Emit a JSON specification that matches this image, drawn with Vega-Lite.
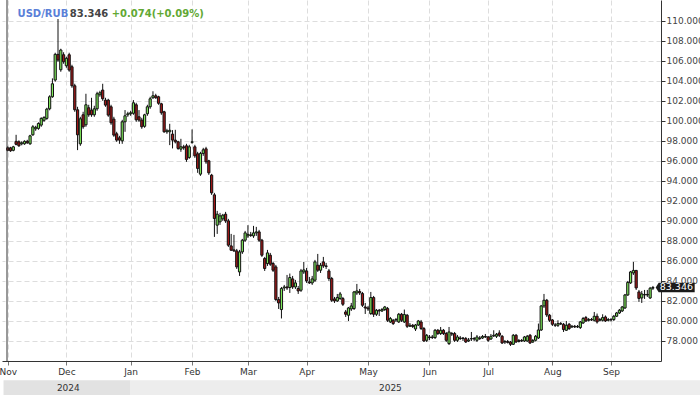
{
"$schema": "https://vega.github.io/schema/vega-lite/v6.json",
"width": 659, "height": 361,
"autosize": {"type": "none"},
"padding": {"left": 2, "top": 0, "right": 39, "bottom": 34},
"background": "white",
"config": {"view": {"stroke": null}, "font": "DejaVu Sans"},
"data": {"values": [
{"i":0,"o":97.30,"h":97.45,"l":96.95,"c":97.05},
{"i":1,"o":97.30,"h":97.40,"l":96.90,"c":97.00},
{"i":2,"o":97.05,"h":97.50,"l":96.95,"c":97.40},
{"i":3,"o":97.95,"h":98.60,"l":97.55,"c":97.65},
{"i":4,"o":97.90,"h":98.05,"l":97.40,"c":97.50},
{"i":5,"o":97.70,"h":97.95,"l":97.55,"c":97.80},
{"i":6,"o":97.70,"h":98.05,"l":97.60,"c":97.95},
{"i":7,"o":97.95,"h":98.10,"l":97.70,"c":97.80},
{"i":8,"o":97.70,"h":98.60,"l":97.60,"c":98.50},
{"i":9,"o":98.60,"h":99.57,"l":98.50,"c":99.40},
{"i":10,"o":99.20,"h":99.50,"l":99.00,"c":99.35},
{"i":11,"o":99.24,"h":99.85,"l":99.10,"c":99.73},
{"i":12,"o":99.57,"h":100.35,"l":99.40,"c":100.24},
{"i":13,"o":100.05,"h":100.45,"l":99.90,"c":100.34},
{"i":14,"o":100.24,"h":101.30,"l":100.10,"c":101.17},
{"i":15,"o":101.20,"h":102.55,"l":101.05,"c":102.40},
{"i":16,"o":102.40,"h":104.24,"l":102.30,"c":103.70},
{"i":17,"o":104.07,"h":106.80,"l":103.90,"c":106.64},
{"i":18,"o":106.64,"h":110.17,"l":105.90,"c":106.07},
{"i":19,"o":105.10,"h":107.20,"l":104.90,"c":107.07},
{"i":20,"o":106.60,"h":106.85,"l":105.70,"c":105.90},
{"i":21,"o":105.50,"h":106.40,"l":105.30,"c":106.24},
{"i":22,"o":106.60,"h":106.80,"l":104.90,"c":105.07},
{"i":23,"o":105.40,"h":105.60,"l":103.30,"c":103.50},
{"i":24,"o":103.50,"h":103.70,"l":100.90,"c":101.10},
{"i":25,"o":101.10,"h":101.40,"l":97.07,"c":98.60},
{"i":26,"o":97.70,"h":100.40,"l":97.50,"c":100.20},
{"i":27,"o":100.60,"h":100.90,"l":99.20,"c":99.40},
{"i":28,"o":99.60,"h":102.70,"l":99.40,"c":101.60},
{"i":29,"o":101.30,"h":101.60,"l":100.40,"c":100.60},
{"i":30,"o":101.07,"h":102.30,"l":100.40,"c":100.60},
{"i":31,"o":100.60,"h":101.50,"l":100.40,"c":101.20},
{"i":32,"o":101.20,"h":102.90,"l":101.00,"c":102.70},
{"i":33,"o":102.60,"h":103.00,"l":102.40,"c":102.80},
{"i":34,"o":103.07,"h":103.70,"l":102.00,"c":102.20},
{"i":35,"o":102.07,"h":102.30,"l":101.40,"c":101.57},
{"i":36,"o":102.07,"h":102.20,"l":100.40,"c":100.57},
{"i":37,"o":101.40,"h":101.60,"l":99.60,"c":99.80},
{"i":38,"o":100.17,"h":100.40,"l":98.40,"c":98.57},
{"i":39,"o":98.70,"h":98.90,"l":97.90,"c":98.07},
{"i":40,"o":98.30,"h":98.50,"l":97.70,"c":98.07},
{"i":41,"o":98.00,"h":100.10,"l":97.70,"c":99.90},
{"i":42,"o":99.90,"h":101.07,"l":98.90,"c":100.50},
{"i":43,"o":100.60,"h":100.90,"l":100.40,"c":100.70},
{"i":44,"o":100.70,"h":101.00,"l":100.50,"c":100.80},
{"i":45,"o":100.75,"h":102.07,"l":100.60,"c":101.80},
{"i":46,"o":101.60,"h":101.80,"l":99.90,"c":100.10},
{"i":47,"o":100.40,"h":101.07,"l":99.90,"c":100.07},
{"i":48,"o":100.07,"h":100.30,"l":99.20,"c":99.40},
{"i":49,"o":99.45,"h":100.70,"l":99.30,"c":100.60},
{"i":50,"o":100.70,"h":101.60,"l":100.50,"c":101.40},
{"i":51,"o":101.40,"h":102.40,"l":101.20,"c":102.20},
{"i":52,"o":102.30,"h":102.95,"l":102.20,"c":102.50},
{"i":53,"o":102.50,"h":102.70,"l":102.20,"c":102.30},
{"i":54,"o":102.40,"h":102.50,"l":101.60,"c":101.75},
{"i":55,"o":101.70,"h":101.80,"l":100.60,"c":100.80},
{"i":56,"o":100.90,"h":101.00,"l":98.80,"c":98.90},
{"i":57,"o":98.90,"h":99.20,"l":98.70,"c":99.00},
{"i":58,"o":98.90,"h":99.70,"l":97.57,"c":99.05},
{"i":59,"o":98.67,"h":99.07,"l":97.24,"c":98.07},
{"i":60,"o":98.07,"h":99.10,"l":97.74,"c":97.90},
{"i":61,"o":97.90,"h":98.00,"l":97.10,"c":97.24},
{"i":62,"o":97.17,"h":98.20,"l":96.90,"c":97.40},
{"i":63,"o":97.40,"h":97.60,"l":97.10,"c":97.30},
{"i":64,"o":97.50,"h":97.70,"l":95.90,"c":96.14},
{"i":65,"o":96.34,"h":97.60,"l":96.20,"c":97.40},
{"i":66,"o":97.85,"h":99.14,"l":97.70,"c":97.90},
{"i":67,"o":97.40,"h":97.60,"l":96.30,"c":96.50},
{"i":68,"o":96.70,"h":96.90,"l":94.80,"c":95.24},
{"i":69,"o":94.67,"h":96.90,"l":94.50,"c":96.74},
{"i":70,"o":96.74,"h":97.30,"l":96.50,"c":97.10},
{"i":71,"o":97.20,"h":97.40,"l":95.70,"c":95.90},
{"i":72,"o":96.00,"h":96.10,"l":94.60,"c":94.80},
{"i":73,"o":94.57,"h":94.70,"l":92.60,"c":92.80},
{"i":74,"o":92.60,"h":92.80,"l":88.40,"c":90.24},
{"i":75,"o":89.57,"h":91.00,"l":88.70,"c":90.67},
{"i":76,"o":89.90,"h":90.80,"l":89.60,"c":90.50},
{"i":77,"o":90.20,"h":90.70,"l":90.00,"c":90.57},
{"i":78,"o":90.67,"h":90.90,"l":89.80,"c":90.00},
{"i":79,"o":90.00,"h":90.20,"l":87.40,"c":87.57},
{"i":80,"o":87.50,"h":88.70,"l":87.00,"c":87.07},
{"i":81,"o":87.10,"h":88.60,"l":86.90,"c":87.00},
{"i":82,"o":87.00,"h":87.20,"l":85.20,"c":85.40},
{"i":83,"o":84.90,"h":87.10,"l":84.50,"c":86.90},
{"i":84,"o":86.90,"h":88.20,"l":86.70,"c":88.07},
{"i":85,"o":88.07,"h":89.00,"l":87.90,"c":88.80},
{"i":86,"o":88.50,"h":89.57,"l":88.30,"c":88.65},
{"i":87,"o":88.60,"h":88.90,"l":88.40,"c":88.55},
{"i":88,"o":88.50,"h":89.50,"l":88.30,"c":88.80},
{"i":89,"o":88.80,"h":89.40,"l":88.50,"c":88.90},
{"i":90,"o":88.90,"h":89.10,"l":87.90,"c":88.07},
{"i":91,"o":88.07,"h":88.20,"l":86.40,"c":86.57},
{"i":92,"o":86.24,"h":86.40,"l":85.00,"c":85.24},
{"i":93,"o":85.74,"h":87.10,"l":85.50,"c":86.80},
{"i":94,"o":86.57,"h":86.80,"l":85.50,"c":85.67},
{"i":95,"o":85.74,"h":85.90,"l":84.90,"c":85.07},
{"i":96,"o":85.40,"h":85.60,"l":82.00,"c":82.14},
{"i":97,"o":82.14,"h":82.40,"l":81.20,"c":81.80},
{"i":98,"o":81.14,"h":83.40,"l":80.25,"c":83.24},
{"i":99,"o":83.30,"h":83.60,"l":83.00,"c":83.40},
{"i":100,"o":83.40,"h":84.60,"l":83.10,"c":83.30},
{"i":101,"o":83.34,"h":84.74,"l":82.80,"c":84.34},
{"i":102,"o":84.20,"h":84.50,"l":83.20,"c":83.40},
{"i":103,"o":83.40,"h":84.10,"l":83.20,"c":83.80},
{"i":104,"o":83.24,"h":83.50,"l":82.70,"c":83.00},
{"i":105,"o":83.07,"h":85.20,"l":82.90,"c":85.00},
{"i":106,"o":84.90,"h":85.90,"l":84.70,"c":85.10},
{"i":107,"o":85.00,"h":85.30,"l":83.80,"c":84.00},
{"i":108,"o":83.90,"h":84.40,"l":83.70,"c":83.80},
{"i":109,"o":83.80,"h":84.50,"l":83.60,"c":84.20},
{"i":110,"o":84.07,"h":86.10,"l":83.90,"c":85.90},
{"i":111,"o":85.57,"h":86.70,"l":84.90,"c":85.07},
{"i":112,"o":85.07,"h":85.80,"l":84.80,"c":85.57},
{"i":113,"o":85.90,"h":86.40,"l":85.30,"c":85.50},
{"i":114,"o":85.50,"h":85.80,"l":85.20,"c":85.45},
{"i":115,"o":85.00,"h":85.20,"l":84.00,"c":84.24},
{"i":116,"o":84.24,"h":84.40,"l":81.90,"c":82.07},
{"i":117,"o":82.20,"h":82.40,"l":81.80,"c":82.00},
{"i":118,"o":82.00,"h":82.70,"l":81.90,"c":82.35},
{"i":119,"o":82.25,"h":82.90,"l":82.10,"c":82.70},
{"i":120,"o":82.24,"h":82.40,"l":81.50,"c":81.67},
{"i":121,"o":80.90,"h":81.10,"l":80.40,"c":80.67},
{"i":122,"o":80.57,"h":81.40,"l":80.00,"c":81.30},
{"i":123,"o":81.20,"h":81.80,"l":81.00,"c":81.50},
{"i":124,"o":81.24,"h":83.00,"l":81.10,"c":82.90},
{"i":125,"o":82.80,"h":83.70,"l":82.60,"c":83.00},
{"i":126,"o":82.95,"h":83.20,"l":82.60,"c":82.80},
{"i":127,"o":82.74,"h":82.90,"l":81.40,"c":81.57},
{"i":128,"o":81.40,"h":81.80,"l":80.70,"c":81.30},
{"i":129,"o":81.30,"h":81.50,"l":81.00,"c":81.20},
{"i":130,"o":80.74,"h":82.90,"l":80.60,"c":82.34},
{"i":131,"o":82.34,"h":82.50,"l":80.40,"c":80.67},
{"i":132,"o":80.67,"h":81.20,"l":80.50,"c":81.07},
{"i":133,"o":81.07,"h":81.20,"l":80.50,"c":81.00},
{"i":134,"o":81.00,"h":81.30,"l":80.90,"c":81.14},
{"i":135,"o":81.14,"h":81.50,"l":81.00,"c":81.40},
{"i":136,"o":81.24,"h":81.40,"l":79.90,"c":80.07},
{"i":137,"o":79.90,"h":80.40,"l":79.80,"c":80.24},
{"i":138,"o":80.07,"h":80.20,"l":79.60,"c":79.74},
{"i":139,"o":80.10,"h":80.30,"l":79.90,"c":80.14},
{"i":140,"o":79.90,"h":80.80,"l":79.80,"c":80.67},
{"i":141,"o":80.67,"h":80.80,"l":79.90,"c":80.07},
{"i":142,"o":79.90,"h":81.14,"l":79.80,"c":80.64},
{"i":143,"o":80.57,"h":80.70,"l":79.30,"c":79.47},
{"i":144,"o":79.47,"h":79.80,"l":79.40,"c":79.57},
{"i":145,"o":79.57,"h":79.70,"l":79.30,"c":79.45},
{"i":146,"o":79.20,"h":79.70,"l":79.00,"c":79.60},
{"i":147,"o":79.60,"h":80.10,"l":79.50,"c":80.00},
{"i":148,"o":79.90,"h":80.10,"l":79.10,"c":79.24},
{"i":149,"o":79.24,"h":79.40,"l":77.90,"c":78.00},
{"i":150,"o":78.07,"h":78.70,"l":77.90,"c":78.57},
{"i":151,"o":78.40,"h":78.60,"l":78.10,"c":78.34},
{"i":152,"o":78.34,"h":78.60,"l":78.20,"c":78.40},
{"i":153,"o":78.34,"h":79.20,"l":78.20,"c":79.07},
{"i":154,"o":79.07,"h":79.20,"l":78.60,"c":78.74},
{"i":155,"o":78.74,"h":79.40,"l":78.60,"c":79.07},
{"i":156,"o":79.07,"h":79.20,"l":78.60,"c":78.74},
{"i":157,"o":78.74,"h":78.90,"l":77.90,"c":78.07},
{"i":158,"o":77.74,"h":79.40,"l":77.60,"c":78.90},
{"i":159,"o":78.74,"h":78.90,"l":78.50,"c":78.70},
{"i":160,"o":78.74,"h":78.90,"l":77.90,"c":78.07},
{"i":161,"o":78.07,"h":78.60,"l":77.90,"c":78.40},
{"i":162,"o":78.30,"h":78.50,"l":78.10,"c":78.24},
{"i":163,"o":78.24,"h":78.40,"l":78.00,"c":78.30},
{"i":164,"o":78.24,"h":78.40,"l":77.80,"c":77.90},
{"i":165,"o":78.00,"h":78.30,"l":77.90,"c":78.10},
{"i":166,"o":78.20,"h":78.90,"l":78.00,"c":78.24},
{"i":167,"o":78.24,"h":78.40,"l":78.00,"c":78.20},
{"i":168,"o":78.07,"h":78.60,"l":77.90,"c":78.40},
{"i":169,"o":78.30,"h":78.50,"l":78.10,"c":78.24},
{"i":170,"o":78.30,"h":78.60,"l":78.20,"c":78.45},
{"i":171,"o":78.45,"h":78.70,"l":78.30,"c":78.40},
{"i":172,"o":78.40,"h":78.50,"l":77.90,"c":78.07},
{"i":173,"o":78.20,"h":78.70,"l":78.10,"c":78.47},
{"i":174,"o":78.50,"h":79.07,"l":78.40,"c":78.57},
{"i":175,"o":78.47,"h":78.80,"l":78.30,"c":78.67},
{"i":176,"o":78.80,"h":79.07,"l":78.40,"c":78.57},
{"i":177,"o":78.47,"h":78.60,"l":77.70,"c":77.80},
{"i":178,"o":77.90,"h":78.10,"l":77.70,"c":77.95},
{"i":179,"o":77.95,"h":78.10,"l":77.75,"c":77.85},
{"i":180,"o":77.90,"h":78.00,"l":77.50,"c":77.67},
{"i":181,"o":77.67,"h":78.70,"l":77.60,"c":78.57},
{"i":182,"o":78.57,"h":78.70,"l":77.80,"c":77.90},
{"i":183,"o":77.95,"h":78.20,"l":77.85,"c":78.05},
{"i":184,"o":78.05,"h":78.20,"l":77.90,"c":78.00},
{"i":185,"o":78.00,"h":78.50,"l":77.90,"c":78.40},
{"i":186,"o":78.00,"h":78.60,"l":77.90,"c":78.47},
{"i":187,"o":78.57,"h":78.70,"l":77.70,"c":77.80},
{"i":188,"o":77.90,"h":78.20,"l":77.80,"c":78.05},
{"i":189,"o":78.07,"h":78.60,"l":77.95,"c":78.47},
{"i":190,"o":78.30,"h":79.74,"l":78.20,"c":79.10},
{"i":191,"o":79.10,"h":81.60,"l":79.00,"c":81.50},
{"i":192,"o":81.50,"h":82.70,"l":81.30,"c":82.07},
{"i":193,"o":82.07,"h":82.20,"l":80.40,"c":80.60},
{"i":194,"o":80.57,"h":80.70,"l":79.90,"c":80.07},
{"i":195,"o":80.10,"h":80.20,"l":79.50,"c":79.67},
{"i":196,"o":79.60,"h":79.80,"l":79.40,"c":79.57},
{"i":197,"o":79.57,"h":80.07,"l":79.40,"c":79.74},
{"i":198,"o":79.74,"h":79.90,"l":79.60,"c":79.70},
{"i":199,"o":79.67,"h":79.80,"l":78.90,"c":79.14},
{"i":200,"o":79.07,"h":80.00,"l":79.00,"c":79.57},
{"i":201,"o":79.67,"h":79.80,"l":79.10,"c":79.24},
{"i":202,"o":79.40,"h":79.60,"l":79.30,"c":79.47},
{"i":203,"o":79.47,"h":79.60,"l":79.30,"c":79.40},
{"i":204,"o":79.40,"h":79.60,"l":79.30,"c":79.45},
{"i":205,"o":79.34,"h":80.00,"l":79.20,"c":79.90},
{"i":206,"o":79.80,"h":80.40,"l":79.70,"c":80.24},
{"i":207,"o":80.34,"h":80.50,"l":79.90,"c":80.00},
{"i":208,"o":80.07,"h":80.30,"l":79.95,"c":80.14},
{"i":209,"o":80.14,"h":80.30,"l":80.00,"c":80.10},
{"i":210,"o":80.07,"h":80.90,"l":79.95,"c":80.47},
{"i":211,"o":80.47,"h":80.74,"l":79.74,"c":79.90},
{"i":212,"o":80.07,"h":80.30,"l":79.95,"c":80.14},
{"i":213,"o":80.07,"h":80.67,"l":79.95,"c":80.34},
{"i":214,"o":80.40,"h":80.55,"l":79.90,"c":80.00},
{"i":215,"o":80.07,"h":80.30,"l":79.95,"c":80.14},
{"i":216,"o":80.14,"h":80.30,"l":79.95,"c":80.10},
{"i":217,"o":80.14,"h":80.60,"l":80.00,"c":80.47},
{"i":218,"o":80.47,"h":80.90,"l":80.40,"c":80.80},
{"i":219,"o":80.80,"h":81.20,"l":80.70,"c":81.07},
{"i":220,"o":81.00,"h":81.50,"l":80.90,"c":81.40},
{"i":221,"o":81.30,"h":82.70,"l":81.20,"c":82.60},
{"i":222,"o":82.60,"h":84.00,"l":82.50,"c":83.85},
{"i":223,"o":83.80,"h":85.00,"l":83.70,"c":84.90},
{"i":224,"o":84.80,"h":85.90,"l":84.60,"c":85.05},
{"i":225,"o":85.05,"h":85.10,"l":83.10,"c":83.30},
{"i":226,"o":82.90,"h":83.10,"l":81.90,"c":82.25},
{"i":227,"o":82.30,"h":83.00,"l":81.80,"c":82.70},
{"i":228,"o":82.60,"h":83.10,"l":82.20,"c":82.65},
{"i":229,"o":82.65,"h":83.10,"l":82.40,"c":82.60},
{"i":230,"o":82.30,"h":83.40,"l":82.20,"c":83.272},
{"i":231,"o":83.272,"h":83.50,"l":83.10,"c":83.346}
]},
"layer": [
{
"mark": {"type": "rule", "color": "#111111", "strokeWidth": 1},
"encoding": {
"x": {"field": "i", "type": "quantitative", "scale": {"domain": [-0.26, 232.1], "nice": false, "zero": false},
"axis": {"title": null, "values": [0,21,44,66,86,107,129,151,172,195,216], "tickCount": 20,
"labelExpr": "['Nov','Dec','Jan','Feb','Mar','Apr','May','Jun','Jul','Aug','Sep'][indexof([0,21,44,66,86,107,129,151,172,195,216], datum.value)]",
"labelFlush": 0.01, "labelAlign": "center", "labelOverlap": false, "grid": true, "gridDash": [5,3], "gridColor": "#dddddd",
"domainColor": "#333333", "tickColor": "#777777", "tickSize": 4, "labelColor": "#333333",
"labelFontSize": 9, "labelFont": "DejaVu Sans", "labelPadding": 2}},
"y": {"field": "l", "type": "quantitative", "scale": {"domain": [76, 112.07], "nice": false, "zero": false},
"axis": {"orient": "right", "title": null, "values": [78,80,82,84,86,88,90,92,94,96,98,100,102,104,106,108,110], "tickCount": 30,
"format": ".3f", "labelOverlap": false, "grid": true, "gridDash": [5,3], "gridColor": "#dddddd", "domainColor": "#333333",
"tickColor": "#333333", "tickSize": 4, "labelColor": "#444444", "labelFontSize": 9, "labelFont": "DejaVu Sans", "labelPadding": 1}},
"y2": {"field": "h"}
}
},
{
"mark": {"type": "bar", "width": 2.2, "stroke": "#111111", "strokeWidth": 1},
"encoding": {
"x": {"field": "i", "type": "quantitative"},
"y": {"field": "o", "type": "quantitative"},
"y2": {"field": "c"},
"fill": {"condition": {"test": "datum.c >= datum.o", "value": "#7ee85a"}, "value": "#a01818"}
}
},
{
"data": {"values": [{}]},
"mark": {"type": "rule", "color": "#333333", "strokeWidth": 1},
"encoding": {
"x": {"datum": -0.26, "type": "quantitative"},
"y": {"datum": 76, "type": "quantitative"},
"y2": {"datum": 112.07}
}
},
{
"data": {"values": [{}]},
"mark": {"type": "text", "font": "DejaVu Sans", "fontWeight": "bold", "fontSize": 10, "align": "left", "baseline": "alphabetic", "color": "#5a7fd8"},
"encoding": {
"x": {"datum": 3.51, "type": "quantitative"},
"y": {"datum": 110.34, "type": "quantitative"},
"text": {"value": "USD/RUB"}
}
},
{
"data": {"values": [{}]},
"mark": {"type": "text", "font": "DejaVu Sans", "fontWeight": "bold", "fontSize": 10, "align": "left", "baseline": "alphabetic", "color": "#444444"},
"encoding": {
"x": {"datum": 22.2, "type": "quantitative"},
"y": {"datum": 110.34, "type": "quantitative"},
"text": {"value": "83.346"}
}
},
{
"data": {"values": [{}]},
"mark": {"type": "text", "font": "DejaVu Sans", "fontWeight": "bold", "fontSize": 10, "align": "left", "baseline": "alphabetic", "color": "#62a834"},
"encoding": {
"x": {"datum": 37.2, "type": "quantitative"},
"y": {"datum": 110.34, "type": "quantitative"},
"text": {"value": "+0.074(+0.09%)"}
}
},
{
"data": {"values": [{}]},
"mark": {"type": "point", "shape": "M -1 0 L -0.85 -0.244 L 1 -0.244 L 1 0.244 L -0.85 0.244 Z", "size": 1521, "filled": true, "color": "#1a1a1a", "opacity": 1, "strokeWidth": 0},
"encoding": {
"x": {"datum": 238.98, "type": "quantitative"},
"y": {"datum": 83.346, "type": "quantitative"}
}
},
{
"data": {"values": [{}]},
"mark": {"type": "text", "font": "DejaVu Sans", "fontSize": 9.5, "align": "center", "baseline": "middle", "color": "#ffffff"},
"encoding": {
"x": {"datum": 239.4, "type": "quantitative"},
"y": {"datum": 83.346, "type": "quantitative"},
"text": {"value": "83.346"}
}
},
{
"data": {"values": [{}]},
"mark": {"type": "rect", "color": "#e2e2e2"},
"encoding": {
"x": {"datum": -1.5, "type": "quantitative"},
"x2": {"datum": 44},
"y": {"datum": 74.07, "type": "quantitative"},
"y2": {"datum": 72.3}
}
},
{
"data": {"values": [{}]},
"mark": {"type": "rect", "color": "#ededed"},
"encoding": {
"x": {"datum": 44, "type": "quantitative"},
"x2": {"datum": 248},
"y": {"datum": 74.07, "type": "quantitative"},
"y2": {"datum": 72.3}
}
},
{
"data": {"values": [{}]},
"mark": {"type": "text", "font": "DejaVu Sans", "fontSize": 9, "align": "center", "baseline": "middle", "color": "#333333"},
"encoding": {
"x": {"datum": 21.7, "type": "quantitative"},
"y": {"datum": 73.27, "type": "quantitative"},
"text": {"value": "2024"}
}
},
{
"data": {"values": [{}]},
"mark": {"type": "text", "font": "DejaVu Sans", "fontSize": 9, "align": "center", "baseline": "middle", "color": "#333333"},
"encoding": {
"x": {"datum": 137, "type": "quantitative"},
"y": {"datum": 73.27, "type": "quantitative"},
"text": {"value": "2025"}
}
}
]
}
